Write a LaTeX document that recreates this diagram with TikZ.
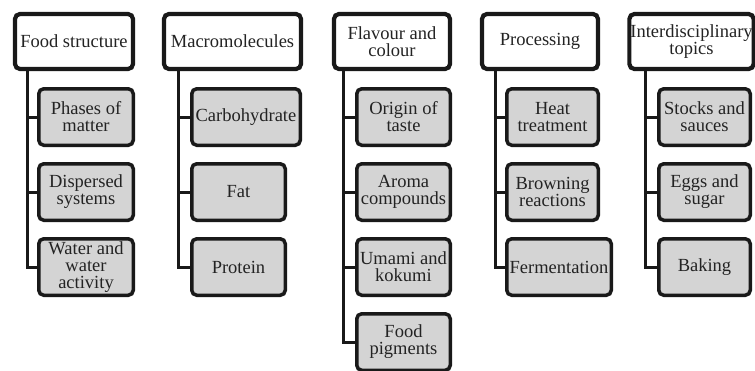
\documentclass[tikz,border=0pt]{standalone}
\usepackage{fontspec}
\setmainfont{Liberation Serif}
\usetikzlibrary{shadows}
\definecolor{childfill}{RGB}{212,212,212}
\definecolor{ink}{RGB}{25,25,25}
\definecolor{txt}{RGB}{35,35,35}
\tikzset{
  base/.style={draw=ink, rounded corners=5pt, align=center, inner sep=1pt,
    font=\fontsize{18.5}{17}\selectfont, text=txt,
    drop shadow={shadow xshift=1.5pt, shadow yshift=-1.5pt, opacity=0.25}},
  topbox/.style={base, fill=white, line width=4.2pt, minimum height=55pt},
  childbox/.style={base, fill=childfill, line width=3.5pt, minimum height=56.5pt},
  link/.style={draw=ink, line width=3pt},
}
\begin{document}
\begin{tikzpicture}[x=1pt,y=-1pt]
\useasboundingbox (0,0) rectangle (755,370);
% Connectors (drawn first, under the boxes)
\coordinate (k1) at (27,60);
\coordinate (k2) at (178,60);
\coordinate (k3) at (343,60);
\coordinate (k4) at (495,60);
\coordinate (k5) at (645,60);
% Column 1
\node[topbox, minimum width=118pt] (t1) at (74,41.5) {Food structure};
\node[childbox, minimum width=94.5pt] (c11) at (86,117) {Phases of\\matter};
\node[childbox, minimum width=94.5pt] (c12) at (86,192) {Dispersed\\systems};
\node[childbox, minimum width=94.5pt] (c13) at (86,267) {Water and\\water\\activity};
% Column 2
\node[topbox, minimum width=137pt] (t2) at (232.5,41.5) {Macromolecules};
\node[childbox, minimum width=108.5pt] (c21) at (246,117) {Carbohydrate};
\node[childbox, minimum width=93.5pt] (c22) at (238.5,192) {Fat};
\node[childbox, minimum width=93.5pt] (c23) at (238.5,267) {Protein};
% Column 3
\node[topbox, minimum width=116pt] (t3) at (392,41.5) {Flavour and\\colour};
\node[childbox, minimum width=93.5pt] (c31) at (403.5,117) {Origin of\\taste};
\node[childbox, minimum width=93.5pt] (c32) at (403.5,192) {Aroma\\compounds};
\node[childbox, minimum width=93.5pt] (c33) at (403.5,267) {Umami and\\kokumi};
\node[childbox, minimum width=93.5pt] (c34) at (403.5,342) {Food\\pigments};
% Column 4
\node[topbox, minimum width=116pt] (t4) at (540,41.5) {Processing};
\node[childbox, minimum width=91.5pt] (c41) at (552.5,117) {Heat\\treatment};
\node[childbox, minimum width=91.5pt] (c42) at (552.5,192) {Browning\\reactions};
\node[childbox, minimum width=104.5pt] (c43) at (559,267) {Fermentation};
% Column 5
\node[topbox, minimum width=119pt] (t5) at (691.5,41.5) {Interdisciplinary\\topics};
\node[childbox, minimum width=91.5pt] (c51) at (704.5,117) {Stocks and\\sauces};
\node[childbox, minimum width=91.5pt] (c52) at (704.5,192) {Eggs and\\sugar};
\node[childbox, minimum width=91.5pt] (c53) at (704.5,267) {Baking};
% Connectors
\foreach \k/\t/\list in {k1/t1/{c11,c12,c13}, k2/t2/{c21,c22,c23}, k3/t3/{c31,c32,c33,c34}, k4/t4/{c41,c42,c43}, k5/t5/{c51,c52,c53}}{
  \foreach \c in \list {
    \draw[link] (\t.south -| \k) |- (\c.west);
  }
}
\end{tikzpicture}
\end{document}
